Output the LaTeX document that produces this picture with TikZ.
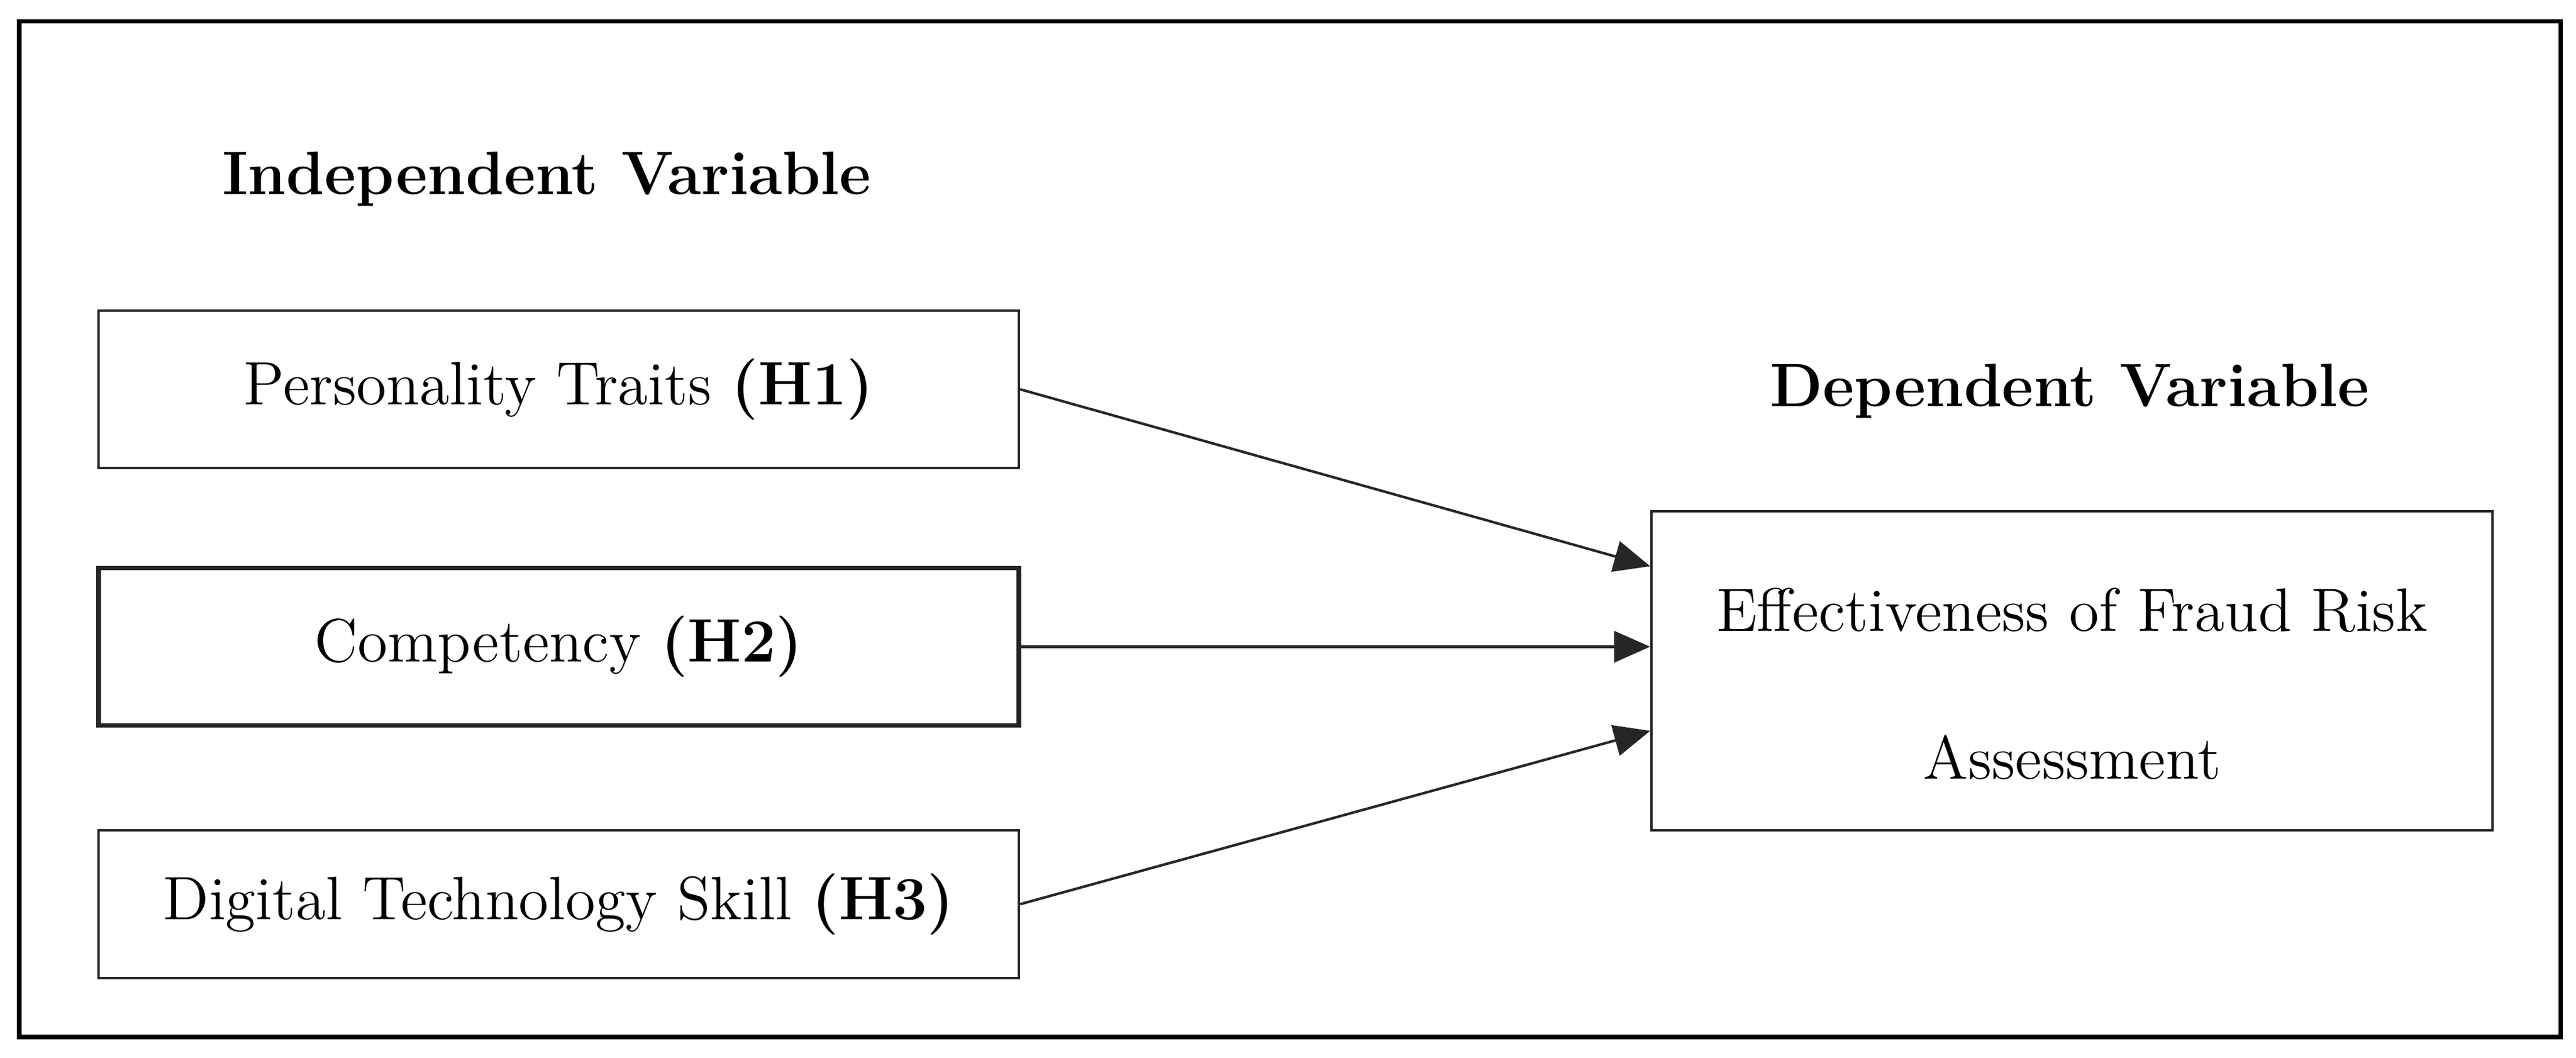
\documentclass[tikz,border=0pt]{standalone}
\usepackage{tikz}
\usetikzlibrary{positioning,arrows.meta}
\begin{document}
\begin{tikzpicture}
\tikzstyle{every node}=[font=\fontsize{14.5}{35}\selectfont];
\tikzstyle{varbox}=[draw=black!85, line width=0.6pt, minimum width=7.66cm, minimum height=1.31cm, inner sep=0pt];
\tikzstyle{head}=[font=\fontsize{14.5}{18}\selectfont\bfseries, anchor=base];
\tikzstyle{link}=[draw=black!85, line width=0.6pt, -{Triangle[length=3mm,width=2.6mm]}];

\useasboundingbox (0,0) rectangle (21.44,8.805);
\draw[line width=1pt] (0.16,0.175) rectangle (21.31,8.625);

\node[head] (indep) at (4.55,7.185) {Independent Variable};
\node[head] (dep) at (17.225,5.42) {Dependent Variable};

\node[varbox] (pers) at (4.65,5.565) {Personality Traits \textbf{(H1)}};
\node[varbox, line width=1.1pt] (comp) at (4.65,3.4225) {Competency \textbf{(H2)}};
\node[varbox, minimum height=1.23cm] (digi) at (4.65,1.28) {Digital Technology Skill \textbf{(H3)}};
\node[varbox, minimum width=7cm, minimum height=2.655cm, text height=1.81cm, align=center] (frra) at (17.245,3.2225) {Effectiveness of Fraud Risk\\Assessment};

\coordinate (in1) at ([yshift=0.87cm]frra.west);
\coordinate (in3) at ([yshift=-0.5cm]frra.west);

\draw[link] (pers.east) -- (in1);
\draw[link] (comp.east) -- (comp.east -| frra.west);
\draw[link] (digi.east) -- (in3);
\end{tikzpicture}
\end{document}
